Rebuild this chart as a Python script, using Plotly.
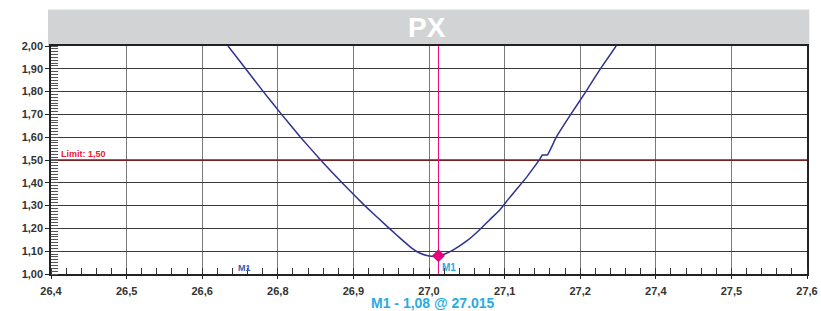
import plotly.graph_objects as go

# ---- data ----
curve_x = [26.681, 26.709, 26.737, 26.766, 26.796, 26.828, 26.862, 26.898, 26.937,
           26.955, 26.972, 26.985, 26.998, 27.012, 27.025, 27.038, 27.060, 27.080,
           27.096, 27.112, 27.125, 27.138, 27.155, 27.175, 27.180, 27.188, 27.202,
           27.225, 27.249, 27.272, 27.297]
curve_y = [2.00, 1.90, 1.80, 1.70, 1.60, 1.50, 1.40, 1.30, 1.20,
           1.155, 1.115, 1.092, 1.080, 1.077, 1.088, 1.105, 1.145, 1.193,
           1.237, 1.280, 1.325, 1.368, 1.425, 1.500, 1.522, 1.522, 1.600,
           1.700, 1.800, 1.900, 2.000]

marker_x = 27.015
marker_y = 1.08
limit_y = 1.50

x_tickvals = [26.4, 26.52, 26.64, 26.76, 26.88, 27.0, 27.12, 27.24, 27.36, 27.48, 27.6]
x_ticktext = ["26,4", "26,5", "26,6", "26,8", "26,9", "27,0", "27,1", "27,2", "27,4", "27,5", "27,6"]
y_tickvals = [1.0, 1.1, 1.2, 1.3, 1.4, 1.5, 1.6, 1.7, 1.8, 1.9, 2.0]
y_ticktext = ["1,00", "1,10", "1,20", "1,30", "1,40", "1,50", "1,60", "1,70", "1,80", "1,90", "2,00"]

title_text = "PX"
limit_label = "Limit: 1,50"
marker_label = "M1"
footer_text = "M1 - 1,08 @ 27.015"
second_m1_x = 26.7075

NAVY = "#2e3192"
PINK = "#e6007e"
CYAN = "#29abe2"

fig = go.Figure()

# limit line
fig.add_trace(go.Scatter(x=[26.4, 27.6], y=[limit_y, limit_y], mode="lines",
                         line=dict(color="#8b1a1a", width=1.5), hoverinfo="skip"))
# marker vertical line
fig.add_trace(go.Scatter(x=[marker_x, marker_x], y=[1.0, 2.0], mode="lines",
                         line=dict(color=PINK, width=1), hoverinfo="skip"))
# curve
fig.add_trace(go.Scatter(x=curve_x, y=curve_y, mode="lines",
                         line=dict(color=NAVY, width=1.5, shape="spline", smoothing=0.3)))
# marker point
fig.add_trace(go.Scatter(x=[marker_x], y=[marker_y], mode="markers",
                         marker=dict(symbol="diamond", size=10, color=PINK)))

font_fam = "Liberation Sans, Arial, sans-serif"

fig.update_layout(
    width=821, height=311,
    margin=dict(l=51, r=14, t=46, b=37, autoexpand=False),
    paper_bgcolor="white", plot_bgcolor="white",
    showlegend=False,
    font=dict(family=font_fam),
)

fig.update_xaxes(
    range=[26.4, 27.6], tickmode="array", tickvals=x_tickvals, ticktext=x_ticktext,
    showgrid=True, gridcolor="#7a7a7a", gridwidth=1.3,
    showline=True, linecolor="#222", linewidth=1.5, mirror=True,
    ticks="outside", ticklen=3, tickcolor="#222", ticklabelstandoff=3,
    tickfont=dict(size=11, color="#333", family=font_fam, weight="bold"),
    zeroline=False, automargin=False,
    minor=dict(tickmode="linear", tick0=26.4, dtick=0.024, ticks="inside", ticklen=6,
               tickcolor="#333", showgrid=False),
)
fig.update_yaxes(
    range=[1.0, 2.0], tickmode="array", tickvals=y_tickvals, ticktext=y_ticktext,
    showgrid=True, gridcolor="#3a3a3a", gridwidth=1,
    showline=True, linecolor="#222", linewidth=1.5, mirror=True,
    ticks="outside", ticklen=4, tickcolor="#222",
    tickfont=dict(size=11, color="#333", family=font_fam, weight="bold"),
    zeroline=False, automargin=False,
    minor=dict(tickmode="linear", tick0=1.0, dtick=0.0125, ticks="inside", ticklen=7,
               tickcolor="#555", showgrid=False),
)

# title bar
fig.add_shape(type="rect", xref="paper", yref="paper", x0=-0.004, x1=1.003,
              y0=1.0, y1=1.16, fillcolor="#d1d3d4", line=dict(width=0), layer="below")
fig.add_annotation(xref="paper", yref="paper", x=0.497, y=1.08, yanchor="middle",
                   text=title_text, showarrow=False,
                   font=dict(size=28, color="white", family=font_fam, weight="bold"))

# limit label
fig.add_annotation(x=26.412, y=limit_y, yanchor="bottom", xanchor="left", text=limit_label,
                   showarrow=False, yshift=-1,
                   font=dict(size=9, color="#e8202a", family=font_fam, weight="bold"))
# M1 labels
fig.add_annotation(x=marker_x, y=1.0, xanchor="left", yanchor="bottom", text=marker_label,
                   showarrow=False, xshift=2, yshift=-1,
                   font=dict(size=10, color=CYAN, family=font_fam, weight="bold"))
fig.add_annotation(x=second_m1_x, y=1.0, xanchor="center", yanchor="bottom", text=marker_label,
                   showarrow=False, yshift=-1,
                   font=dict(size=9, color="#3b5ba9", family=font_fam, weight="bold"))
# footer
fig.add_annotation(x=marker_x, xref="x", yref="paper", y=0, yanchor="top", text=footer_text,
                   showarrow=False, yshift=-19, xshift=-5,
                   font=dict(size=14, color=CYAN, family=font_fam, weight="bold"))

fig.write_html("out.html", config={"displayModeBar": False},
               post_script="document.body.style.margin='0';document.body.style.overflow='hidden';")
